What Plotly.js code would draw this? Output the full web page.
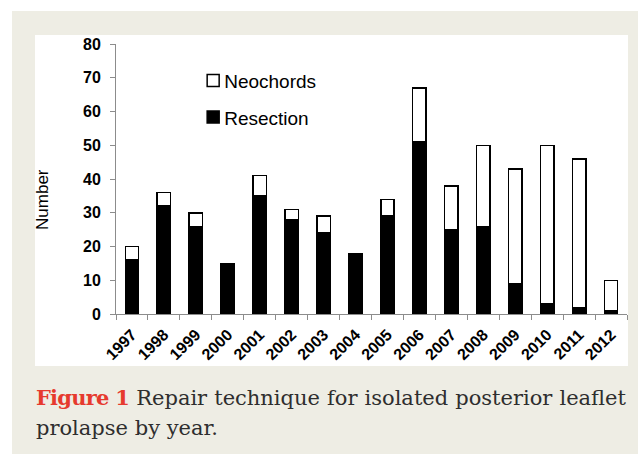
<!DOCTYPE html>
<html>
<head>
<meta charset="utf-8">
<script src="https://cdn.plot.ly/plotly-3.0.1.min.js"></script>
<style>
  html, body { margin: 0; padding: 0; background: #ffffff; width: 638px; height: 454px; overflow: hidden; }
  #bg { position: absolute; left: 12px; top: 11px; width: 626px; height: 443px; background: #eeede4; }
  #panel { position: absolute; left: 35px; top: 35px; width: 593px; height: 331px; background: #ffffff; }
  #chart { position: absolute; left: 15px; top: 35px; width: 613px; height: 331px; }
  #caption { position: absolute; left: 36px; top: 383px; width: 590px; font-family: "DejaVu Serif", "Liberation Serif", serif; font-size: 21px; color: #2e2e2e; line-height: 30px; }
  #caption .l1 { text-align: justify; text-align-last: justify; white-space: nowrap; }
  #caption .l2 { text-align: left; }
  #caption .fig { color: #e63a2e; font-weight: bold; letter-spacing: -0.8px; }
</style>
</head>
<body>
<div id="bg"></div>
<div id="panel"></div>
<div id="chart"></div>
<div id="caption">
  <div class="l1"><span class="fig">Figure 1</span> Repair technique for isolated posterior leaflet</div>
  <div class="l2">prolapse by year.</div>
</div>
<script>
const years = ["1997","1998","1999","2000","2001","2002","2003","2004","2005","2006","2007","2008","2009","2010","2011","2012"];
const resection = [16, 32, 26, 15, 35, 28, 24, 18, 29, 51, 25, 26, 9, 3, 2, 1];
const neochords = [4, 4, 4, 0, 6, 3, 5, 0, 5, 16, 13, 24, 34, 47, 44, 9];
const yTicks = [0, 10, 20, 30, 40, 50, 60, 70, 80];

const axisColor = "#8c8c8c";
const traces = [
  {
    type: "bar", name: "Resection", x: years, y: resection, legendgroup: "r", legendrank: 2,
    width: 0.42,
    marker: { color: "#000000", line: { color: "#000000", width: 1.5 } },
    hoverinfo: "x+y+name"
  },
  {
    type: "bar", name: "Neochords", x: years, y: neochords, legendgroup: "n", legendrank: 1,
    width: 0.42,
    marker: { color: "#ffffff", line: { color: "#000000", width: 1.5 } },
    hoverinfo: "x+y+name"
  }
];

const layout = {
  width: 613, height: 331,
  margin: { l: 101, r: 1, t: 9, b: 52 },
  paper_bgcolor: "rgba(0,0,0,0)", plot_bgcolor: "#ffffff",
  barmode: "stack",
  showlegend: true,
  legend: {
    x: 0.151, y: 0.935, xanchor: "left", yanchor: "top",
    traceorder: "grouped", tracegroupgap: 9,
    font: { family: "Liberation Sans, Arial, sans-serif", size: 19, color: "#000000" },
    bgcolor: "rgba(0,0,0,0)", borderwidth: 0
  },
  font: { family: "Liberation Sans, Arial, sans-serif", color: "#000000" },
  xaxis: {
    type: "category",
    showline: true, linecolor: axisColor, linewidth: 1,
    ticks: "outside", tickson: "boundaries", ticklen: 5, tickcolor: axisColor, tickwidth: 1,
    tickangle: -45, ticklabelstandoff: 4,
    tickfont: { family: "Liberation Sans, Arial, sans-serif", size: 16, weight: "bold", color: "#000000" },
    showgrid: false, zeroline: false, fixedrange: true
  },
  yaxis: {
    range: [0, 80],
    tickvals: yTicks, ticktext: yTicks.map(String),
    showline: true, linecolor: axisColor, linewidth: 1,
    ticks: "outside", ticklen: 5, tickcolor: axisColor, tickwidth: 1,
    ticklabelstandoff: 6,
    tickfont: { family: "Liberation Sans, Arial, sans-serif", size: 16, weight: "bold", color: "#000000" },
    showgrid: false, zeroline: false, fixedrange: true
  },
  annotations: [
    {
      text: "Number", xref: "paper", yref: "paper", x: -0.1429, y: 0.426,
      xanchor: "center", yanchor: "middle", textangle: -90, showarrow: false,
      font: { family: "Liberation Sans, Arial, sans-serif", size: 17, color: "#000000" }
    }
  ]
};

Plotly.newPlot("chart", traces, layout, { displayModeBar: false, staticPlot: true }).then(function () {
  document.querySelectorAll("#chart .legend .legendtext").forEach(function (t) {
    t.setAttribute("x", 31);
  });
});
</script>
</body>
</html>
